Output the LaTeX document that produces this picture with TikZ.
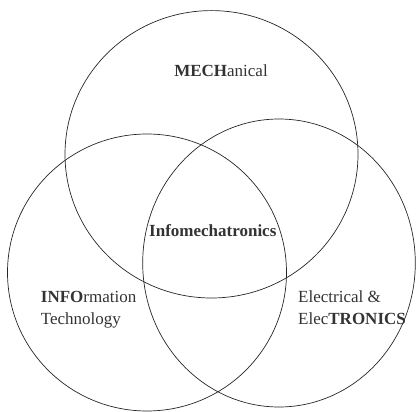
\documentclass[tikz,border=0pt]{standalone}
\usepackage{fontspec}
\setmainfont{Liberation Serif}
\begin{document}
\begin{tikzpicture}[x=1pt,y=-1pt,
  ring/.style={draw=black!85,line width=0.7pt},
  lbl/.style={inner sep=0pt,text=black!80,font=\fontsize{17}{22}\selectfont},
]
\useasboundingbox (0,0) rectangle (418,412);
\draw[ring] (211.5,154.3) ellipse [x radius=146.5, y radius=143.7];
\draw[ring] (147,272.5) ellipse [x radius=139.5, y radius=138.5];
\draw[ring] (279,263) ellipse [x radius=136.3, y radius=144];
\node[lbl,anchor=base] (mech) at (221,76.6) {\textbf{MECH}anical};
\node[lbl,anchor=base] (info) at (212.8,236.3) {\textbf{Infomechatronics}};
\node[lbl,anchor=west,align=left] (it) at (40.7,310) {\textbf{INFO}rmation\\Technology};
\node[lbl,anchor=west,align=left] (ee) at (298,308) {Electrical \&\\Elec\textbf{TRONICS}};
\end{tikzpicture}
\end{document}
